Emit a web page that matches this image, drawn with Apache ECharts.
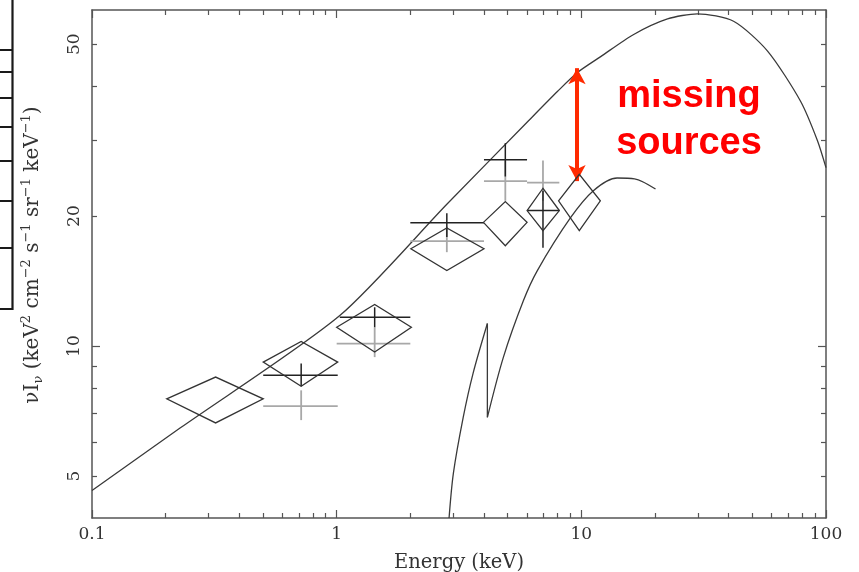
<!DOCTYPE html>
<html>
<head>
<meta charset="utf-8">
<script src="https://cdn.jsdelivr.net/npm/echarts@6/dist/echarts.min.js"></script>
<style>
  html, body { margin: 0; padding: 0; background: #ffffff; }
  #chart { width: 859px; height: 572px; }
</style>
</head>
<body>
<div id="chart"></div>
<script>
// ---- axis ticks ----
const xMajorTicks = [0.1, 1, 10, 100];
const xMinorTicks = [0.2, 0.3, 0.4, 0.5, 0.6, 0.7, 0.8, 0.9, 2, 3, 4, 5, 6, 7, 8, 9, 20, 30, 40, 50, 60, 70, 80, 90];
const yLabelTicks = [5, 10, 20, 50];
const yMajorTicks = [10];
const yMinorTicks = [5, 6, 7, 8, 9, 20, 30, 40, 50];

// ---- total model spectrum (energy keV, nuI_nu) ----
const totalModelE   = [0.1, 0.229, 1.03, 2.82, 6.07, 8.0, 9.64, 12.0, 16.3, 22.5, 29.8, 41.9, 57.7, 78.7, 92.3, 100];
const totalModelVal = [4.63, 6.46, 11.77, 21.3, 33.2, 38.9, 43.0, 46.8, 52.6, 57.2, 58.8, 56.5, 48.2, 36.9, 29.9, 25.9];

// ---- absorbed component: below and above the edge ----
const absBelowE   = [2.88, 3.0, 3.29, 3.61, 4.13];
const absBelowVal = [4.0, 5.08, 6.84, 8.65, 11.28];
const absEdgeE    = [4.13, 4.13];
const absEdgeVal  = [11.28, 6.84];
const absAboveE   = [4.13, 4.8, 5.8, 6.61, 9.02, 11.2, 14.0, 16.5, 20.1];
const absAboveVal = [6.84, 9.42, 12.75, 14.96, 19.8, 22.9, 24.5, 24.4, 23.1];

// ---- diamond measurements: centre energy, band edges, value, value range ----
const diaE    = [0.32, 0.716, 1.43, 2.82, 4.89, 6.97, 9.81];
const diaElo  = [0.202, 0.501, 1.0, 2.01, 3.98, 6.0, 8.07];
const diaEhi  = [0.501, 1.01, 2.02, 4.0, 6.0, 8.13, 11.96];
const diaVal  = [7.55, 9.18, 11.06, 16.8, 19.34, 20.6, 21.7];
const diaLo   = [6.64, 8.07, 9.69, 14.96, 17.08, 18.5, 18.5];
const diaHi   = [8.48, 10.25, 12.48, 18.77, 21.6, 23.2, 25.0];

// ---- black error crosses ----
const blkE   = [0.716, 1.43, 2.82, 4.89, 6.97];
const blkElo = [0.501, 1.03, 2.0, 4.0, 6.0];
const blkEhi = [1.01, 2.0, 4.0, 6.0, 8.13];
const blkVal = [8.56, 11.67, 19.3, 27.0, 20.6];
const blkLo  = [8.07, 11.06, 17.9, 24.7, 16.9];
const blkHi  = [9.12, 12.3, 20.3, 29.5, 22.9];

// ---- grey error crosses ----
const gryE   = [0.716, 1.43, 2.82, 4.89, 6.97];
const gryElo = [0.501, 1.0, 2.0, 4.0, 6.0];
const gryEhi = [1.01, 2.0, 4.0, 6.0, 8.13];
const gryVal = [7.26, 10.13, 17.5, 24.1, 23.9];
const gryLo  = [6.74, 9.43, 16.5, 21.7, 21.7];
const gryHi  = [7.9, 11.06, 18.9, 26.9, 26.9];

// ---- annotation arrow (energy, top value, bottom value) ----
const arrowE = 9.6;
const arrowTop = 44.0;
const arrowBottom = 24.1;

const zip = (xs, ys) => xs.map((x, i) => [x, ys[i]]);
const rows = (...cols) => cols[0].map((_, i) => cols.map(c => c[i]));

const axisColor = '#555';
const curveColor = '#3a3a3a';
const serif = '"DejaVu Serif", serif';

function fmt(v) { return String(+(+v).toPrecision(3)); }

function xAxisDef(pos, ticks, len, labels, line) {
  return {
    type: 'log', logBase: 10, min: 0.1, max: 100, position: pos, gridIndex: 0,
    axisLine: { show: line, lineStyle: { color: axisColor, width: 1.5 } },
    axisTick: { show: true, inside: true, length: len, customValues: ticks,
                lineStyle: { color: axisColor, width: 1.2 } },
    axisLabel: labels ? { show: true, customValues: xMajorTicks, formatter: fmt, margin: 8,
                          color: '#333', fontFamily: serif, fontSize: 17 } : { show: false },
    splitLine: { show: false }, minorTick: { show: false },
    name: labels ? 'Energy (keV)' : '', nameLocation: 'middle', nameGap: 35,
    nameTextStyle: { color: '#333', fontFamily: serif, fontSize: 19.5 }
  };
}

function yAxisDef(pos, ticks, len, labels, line) {
  return {
    type: 'log', logBase: 10, min: 4, max: 60, position: pos, gridIndex: 0,
    axisLine: { show: line, lineStyle: { color: axisColor, width: 1.5 } },
    axisTick: { show: true, inside: true, length: len, customValues: ticks,
                lineStyle: { color: axisColor, width: 1.2 } },
    axisLabel: labels ? { show: true, customValues: yLabelTicks, formatter: fmt, rotate: 90, margin: 9,
                          color: '#333', fontFamily: serif, fontSize: 17 } : { show: false },
    splitLine: { show: false }, minorTick: { show: false },
    name: labels ? '{a|νI}{s|ν}{a| (keV}{p|2}{a| cm}{p|−2}{a| s}{p|−1}{a| sr}{p|−1}{a| keV}{p|−1}{a|)}' : '',
    nameLocation: 'middle', nameRotate: 90, nameGap: 47,
    nameTextStyle: {
      color: '#333', fontFamily: serif, fontSize: 20, padding: [0, 0, 0, 18],
      rich: {
        a: { fontFamily: serif, fontSize: 20, color: '#333', lineHeight: 25 },
        s: { fontFamily: serif, fontSize: 13, color: '#333', lineHeight: 13, verticalAlign: 'bottom' },
        p: { fontFamily: serif, fontSize: 13, color: '#333', lineHeight: 13, verticalAlign: 'top' }
      }
    }
  };
}

function diamondItem(params, api) {
  const a = api.coord([api.value(1), api.value(3)]);
  const b = api.coord([api.value(0), api.value(5)]);
  const c = api.coord([api.value(2), api.value(3)]);
  const d = api.coord([api.value(0), api.value(4)]);
  return {
    type: 'polygon',
    shape: { points: [a, b, c, d] },
    style: { fill: 'none', stroke: '#333', lineWidth: 1.3 }
  };
}

function crossItem(color, width) {
  return function (params, api) {
    const l = api.coord([api.value(1), api.value(3)]);
    const r = api.coord([api.value(2), api.value(3)]);
    const t = api.coord([api.value(0), api.value(5)]);
    const b = api.coord([api.value(0), api.value(4)]);
    return {
      type: 'group',
      children: [
        { type: 'line', shape: { x1: l[0], y1: l[1], x2: r[0], y2: r[1] },
          style: { stroke: color, lineWidth: width } },
        { type: 'line', shape: { x1: t[0], y1: t[1], x2: b[0], y2: b[1] },
          style: { stroke: color, lineWidth: width } }
      ]
    };
  };
}

const curveStyle = { color: curveColor, width: 1.3 };

const option = {
  backgroundColor: '#ffffff',
  animation: false,
  grid: { left: 92, right: 33, top: 10, bottom: 54, containLabel: false, outerBoundsMode: 'none' },
  xAxis: [
    xAxisDef('bottom', xMajorTicks, 8, true, true),
    xAxisDef('bottom', xMinorTicks, 5, false, false),
    xAxisDef('top', xMajorTicks, 8, false, true),
    xAxisDef('top', xMinorTicks, 5, false, false)
  ],
  yAxis: [
    yAxisDef('left', yMajorTicks, 8, true, true),
    yAxisDef('left', yMinorTicks, 5, false, false),
    yAxisDef('right', yMajorTicks, 8, false, true),
    yAxisDef('right', yMinorTicks, 5, false, false)
  ],
  series: [
    { type: 'line', data: zip(totalModelE, totalModelVal), smooth: 0.25, showSymbol: false,
      lineStyle: curveStyle, xAxisIndex: 0, yAxisIndex: 0, z: 2 },
    { type: 'line', data: zip(absBelowE, absBelowVal), smooth: 0.3, showSymbol: false,
      lineStyle: curveStyle, xAxisIndex: 0, yAxisIndex: 0, z: 2 },
    { type: 'line', data: zip(absEdgeE, absEdgeVal), showSymbol: false,
      lineStyle: curveStyle, xAxisIndex: 0, yAxisIndex: 0, z: 2 },
    { type: 'line', data: zip(absAboveE, absAboveVal), smooth: 0.3, showSymbol: false,
      lineStyle: curveStyle, xAxisIndex: 0, yAxisIndex: 0, z: 2 },
    { type: 'custom', renderItem: crossItem('#a8a8a8', 1.8), xAxisIndex: 0, yAxisIndex: 0, z: 3,
      data: rows(gryE, gryElo, gryEhi, gryVal, gryLo, gryHi), encode: { x: 0, y: 3 } },
    { type: 'custom', renderItem: crossItem('#222', 1.5), xAxisIndex: 0, yAxisIndex: 0, z: 4,
      data: rows(blkE, blkElo, blkEhi, blkVal, blkLo, blkHi), encode: { x: 0, y: 3 } },
    { type: 'custom', renderItem: diamondItem, xAxisIndex: 0, yAxisIndex: 0, z: 5,
      data: rows(diaE, diaElo, diaEhi, diaVal, diaLo, diaHi), encode: { x: 0, y: 3 },
      markLine: {
        silent: true, symbol: ['arrow', 'arrow'], symbolSize: [13, 16],
        lineStyle: { color: '#ff2a00', width: 4, type: 'solid' },
        label: { show: false },
        data: [[{ coord: [arrowE, arrowTop] }, { coord: [arrowE, arrowBottom] }]]
      } }
  ],
  graphic: [
    { type: 'text', x: 689, y: 73, z: 100,
      style: { text: 'missing\nsources', fill: '#ff0000', font: 'bold 38px "Liberation Sans", Arial, sans-serif',
               align: 'center', verticalAlign: 'top', lineHeight: 47 } },
    // edge of the neighbouring panel
    { type: 'polyline', z: 100, shape: { points: [[12.5, 0], [12.5, 309], [0, 309]] },
      style: { stroke: '#1a1a1a', lineWidth: 2.2, fill: 'none' } },
    { type: 'group', z: 100, children: [50, 72, 98, 127, 161, 201, 248].map(y => ({
        type: 'line', shape: { x1: 0, y1: y, x2: 12, y2: y }, style: { stroke: '#1a1a1a', lineWidth: 2 } })) }
  ]
};

const chart = echarts.init(document.getElementById('chart'), null, { renderer: 'canvas' });
chart.setOption(option);
</script>
</body>
</html>
